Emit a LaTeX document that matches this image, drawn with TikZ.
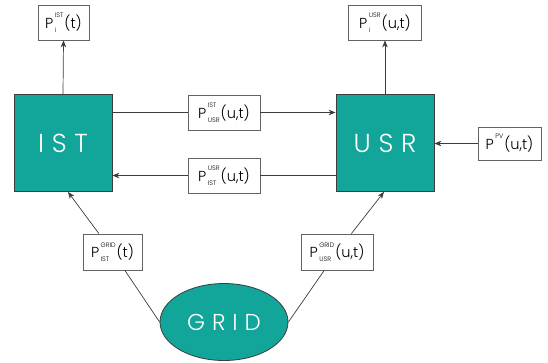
\documentclass[tikz,border=0pt]{standalone}
\usepackage{fontspec}
\IfFontExistsTF{Poppins Light}{\setmainfont{Poppins Light}}{\setmainfont{Poppins}}
\usetikzlibrary{arrows.meta,shapes.geometric}
\definecolor{teal1}{RGB}{18,166,154}
\definecolor{edge}{RGB}{60,60,60}
\newcommand{\Pq}[3]{P\kern1.5pt\raisebox{-4pt}{\vbox{\fontsize{6.5}{14.5}\selectfont\hbox{#1}\hbox{#2}}}\kern1pt#3}
\begin{document}
\begin{tikzpicture}[x=1pt,y=-1pt,
 lbl/.style={draw=edge!80, line width=0.8pt, fill=white, minimum height=35pt, inner xsep=2pt, font=\fontsize{14.5}{16}\selectfont},
 blk/.style={draw=edge, line width=0.8pt, fill=teal1, minimum width=98pt, minimum height=97pt, text=white, font=\fontsize{26}{30}\selectfont\addfontfeature{LetterSpace=30}},
 con/.style={draw=edge, line width=0.7pt},
 arr/.style={con, -{Stealth[length=7pt,width=5.5pt]}}]
\useasboundingbox (0,0) rectangle (548,363);
\node[blk] (ist) at (63,143) {IST};
\node[blk] (usr) at (385,143) {USR};
\node[ellipse, draw=edge, line width=0.8pt, fill=teal1, minimum width=128pt, minimum height=77pt, text=white, font=\fontsize{23}{28}\selectfont\addfontfeature{LetterSpace=30}] (grid) at (224,322) {GRID};
\node[lbl, minimum width=51pt] (pi) at (63.5,22.5) {\Pq{IST}{i}{(t)}};
\node[lbl, minimum width=73pt] (pu) at (385,22.5) {\Pq{USR}{i}{(u,t)}};
\node[lbl, minimum width=72pt] (m1) at (224,112.5) {\Pq{IST}{USR}{(u,t)}};
\node[lbl, minimum width=72pt] (m2) at (224,175.5) {\Pq{USR}{IST}{(u,t)}};
\node[lbl, minimum width=63pt, minimum height=33pt] (pv) at (509.5,143.5) {\Pq{PV}{}{(u,t)}};
\node[lbl, minimum width=59pt, minimum height=36pt] (g1) at (112.5,252) {\Pq{GRID}{IST}{(t)}};
\node[lbl, minimum width=72pt, minimum height=36pt] (g2) at (337,252) {\Pq{GRID}{USR}{(u,t)}};
\draw[arr] (ist.north) -- (pi.south);
\draw[arr] (usr.north) -- (pu.south);
\draw[con] (ist.east |- m1) -- (m1.west);
\draw[arr] (m1.east) -- (usr.west |- m1);
\draw[con] (usr.west |- m2) -- (m2.east);
\draw[arr] (m2.west) -- (ist.east |- m2);
\draw[arr] (pv.west) -- (usr.east |- pv);
\draw[con] (grid.west) -- (g1);
\draw[arr] (g1) -- ([xshift=5pt]ist.south);
\draw[con] (grid.east) -- (g2);
\draw[arr] (g2) -- ([xshift=-1pt]usr.south);
\end{tikzpicture}
\end{document}
